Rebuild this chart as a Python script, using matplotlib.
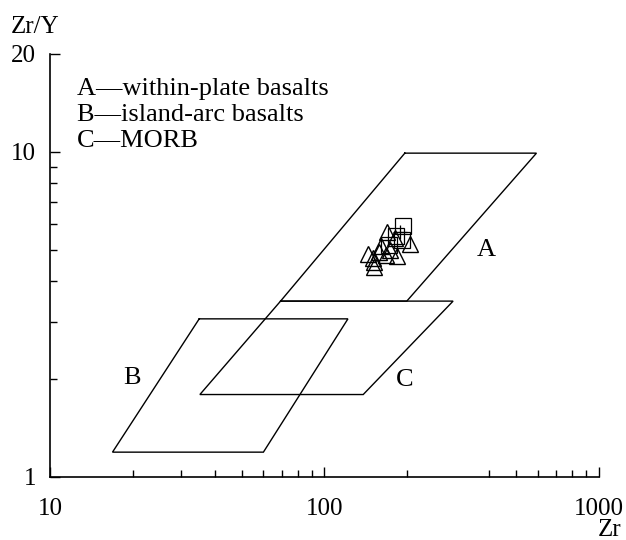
import matplotlib
matplotlib.use("Agg")
import matplotlib.pyplot as plt
from matplotlib.ticker import FixedLocator, NullFormatter, FixedFormatter

plt.rcParams['font.family'] = ['Liberation Serif', 'DejaVu Serif']

# Field boundaries (Zr, Zr/Y)
field_A_zr = [196.7, 594.0, 200.0, 69.3]
field_A_ratio = [9.9, 9.9, 3.47, 3.47]
field_B_zr = [35.0, 122.0, 60.0, 16.9]
field_B_ratio = [3.06, 3.06, 1.19, 1.19]
field_C_zr = [69.3, 295.0, 138.7, 35.2]
field_C_ratio = [3.47, 3.47, 1.79, 1.79]

field_labels = ['A', 'B', 'C']
label_zr = [390.0, 19.85, 196.7]
label_ratio = [5.0, 2.01, 1.98]

# Samples
tri_zr = [170, 181, 205, 161, 173, 184, 144, 150, 152, 152, 158, 168]
tri_ratio = [5.66, 5.43, 5.20, 5.13, 4.98, 4.78, 4.84, 4.71, 4.58, 4.42, 4.91, 4.81]
sq_zr = [193, 182, 172, 192]
sq_ratio = [5.90, 5.50, 5.16, 5.35]
plus_zr = [188.5]
plus_ratio = [5.66]

legend_lines = ['A\u2014within-plate basalts', 'B\u2014island-arc basalts', 'C\u2014MORB']

x_major = [10, 100, 1000]
x_minor = [20, 30, 40, 50, 60, 70, 80, 90, 200, 400, 500, 600, 700, 800, 900]
y_major = [1, 10, 20]
y_minor = [2, 3, 4, 5, 6, 7, 8, 9]

W, H = 626, 540
fig = plt.figure(figsize=(W / 100, H / 100), dpi=100)
ax = fig.add_axes([50 / W, 1 - 476.7 / H, (598.5 - 50) / W, (476.7 - 53.9) / H])
ax.set_xscale('log')
ax.set_yscale('log')
ax.set_xlim(10, 1000)
ax.set_ylim(1, 20)

lw = 1.0
for zs, rs in [(field_A_zr, field_A_ratio), (field_B_zr, field_B_ratio), (field_C_zr, field_C_ratio)]:
    ax.plot(zs + zs[:1], rs + rs[:1], color='black', lw=lw, solid_joinstyle='miter')

for t, xz, yr in zip(field_labels, label_zr, label_ratio):
    ax.text(xz, yr, t, fontsize=19, ha='center', va='center')

ax.plot(tri_zr, tri_ratio, linestyle='none', marker='^', ms=12, mfc='none', mec='black', mew=1.0)
ax.plot(sq_zr, sq_ratio, linestyle='none', marker='s', ms=11, mfc='none', mec='black', mew=0.9)
ax.plot(plus_zr, plus_ratio, linestyle='none', marker='+', ms=10, mec='black', mew=0.9)

for s in ['top', 'right']:
    ax.spines[s].set_visible(False)
for s in ['left', 'bottom']:
    ax.spines[s].set_linewidth(1.2)

ax.xaxis.set_major_locator(FixedLocator(x_major))
ax.xaxis.set_minor_locator(FixedLocator(x_minor))
ax.xaxis.set_major_formatter(FixedFormatter([str(v) for v in x_major]))
ax.xaxis.set_minor_formatter(NullFormatter())
ax.yaxis.set_major_locator(FixedLocator(y_major))
ax.yaxis.set_minor_locator(FixedLocator(y_minor))
ax.yaxis.set_major_formatter(FixedFormatter([str(v) for v in y_major]))
ax.yaxis.set_minor_formatter(NullFormatter())

ax.tick_params(which='both', direction='in', width=1.0, labelsize=18, colors='black')
ax.tick_params(which='major', length=7)
ax.tick_params(which='minor', length=5)
ax.tick_params(axis='x', which='major', pad=15)
ax.tick_params(axis='y', which='major', pad=10)

fig.text(11 / W, 1 - 33 / H, 'Zr/Y', fontsize=18, ha='left', va='baseline')
fig.text(621 / W, 1 - 536 / H, 'Zr', fontsize=18, ha='right', va='baseline')

for i, line in enumerate(legend_lines):
    fig.text(77 / W, 1 - (95 + 26 * i) / H, line, fontsize=19, ha='left', va='baseline')

fig.savefig('out.png', dpi=100)
